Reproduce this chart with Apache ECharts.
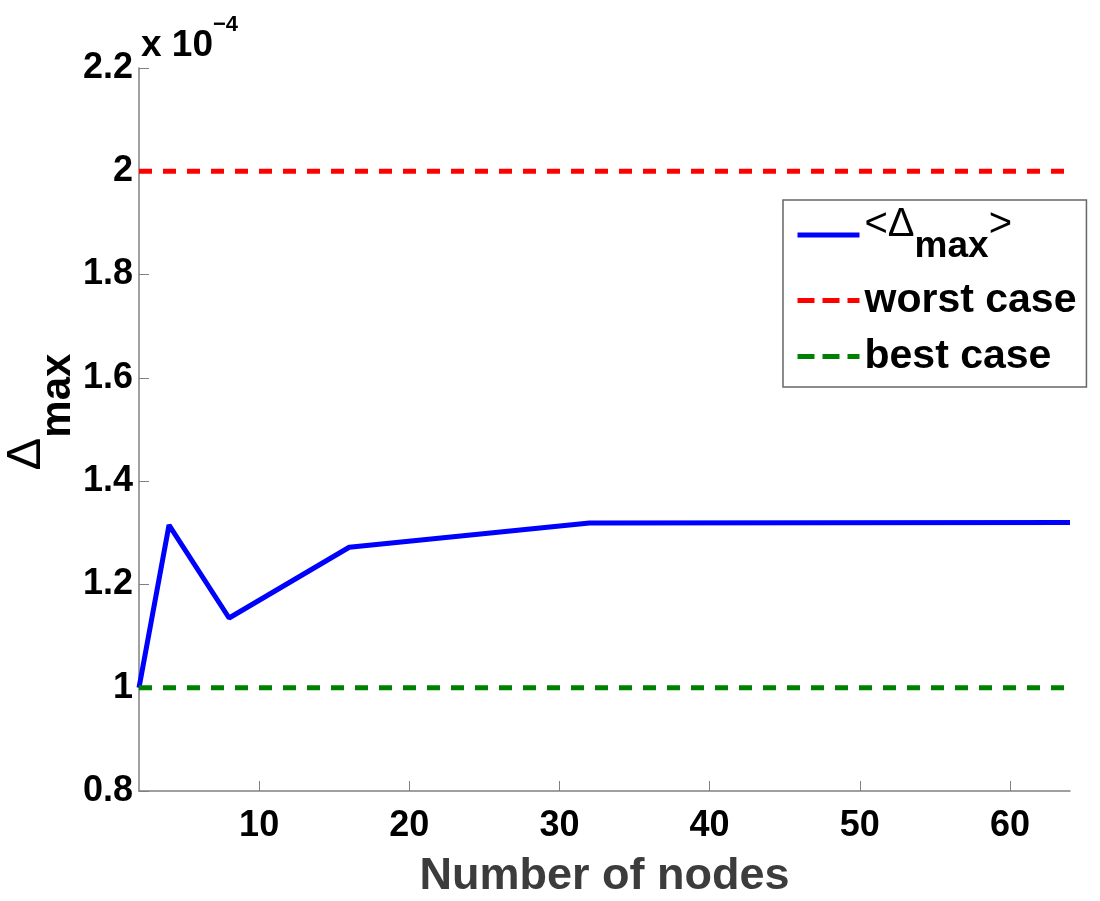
<!DOCTYPE html>
<html>
<head>
<meta charset="utf-8">
<script src="https://cdn.jsdelivr.net/npm/echarts@6/dist/echarts.min.js"></script>
<style>
  html, body { margin: 0; padding: 0; background: #fff; }
  #chart { width: 1100px; height: 901px; }
</style>
</head>
<body>
<div id="chart"></div>
<script>
// data (values in units of 1e-4)
const nodes = [2, 4, 8, 16, 32, 64];
const deltaMax = [1.0, 1.315, 1.135, 1.272, 1.319, 1.32];
const worstCase = [2, 2, 2, 2, 2, 2];
const bestCase = [1, 1, 1, 1, 1, 1];
const xTicks = [10, 20, 30, 40, 50, 60];
const seriesNames = ['<Δmax>', 'worst case', 'best case'];

const FONT = '"Liberation Sans", Arial, sans-serif';
const pairs = (ys) => nodes.map((x, i) => [x, ys[i]]);

const chart = echarts.init(document.getElementById('chart'));

const axisLine = { show: true, lineStyle: { color: '#808080', width: 1.5 } };
const dashed = [13, 11];

chart.setOption({
  animation: false,
  backgroundColor: '#fff',
  textStyle: { fontFamily: FONT },
  // the "x 10^-4" multiplier above the y axis
  title: {
    left: 141,
    top: 14,
    padding: 0,
    text: '{a|x 10}{b|−4}',
    textStyle: {
      rich: {
        a: { fontFamily: FONT, fontSize: 37, fontWeight: 'bold', color: '#000', verticalAlign: 'top', padding: [13, 0, 0, 0] },
        b: { fontFamily: FONT, fontSize: 22, color: '#000', verticalAlign: 'top' }
      }
    }
  },
  grid: { left: 139, right: 30, top: 68, bottom: 110, outerBoundsMode: 'none' },
  legend: {
    orient: 'vertical',
    left: 783,
    top: 200,
    padding: [5, 10, 10, 12],
    itemWidth: 62,
    itemHeight: 20,
    itemGap: 15,
    backgroundColor: '#fff',
    borderColor: '#666',
    borderWidth: 1.5,
    borderRadius: 0,
    itemStyle: { opacity: 0 },
    lineStyle: { width: 5 },
    data: [
      { name: seriesNames[0], itemStyle: { opacity: 0 } },
      { name: seriesNames[1], itemStyle: { opacity: 0 }, lineStyle: { width: 5, type: [17, 8] } },
      { name: seriesNames[2], itemStyle: { opacity: 0 }, lineStyle: { width: 5, type: [17, 8] } }
    ],
    formatter: (name) => name === seriesNames[0] ? '{n|<}{d|Δ}{s|max}{n|>}' : '{t|' + name + '}',
    textStyle: {
      rich: {
        t: { fontFamily: FONT, fontSize: 41, fontWeight: 'bold', color: '#000' },
        n: { fontFamily: FONT, fontSize: 40, color: '#000', verticalAlign: 'top' },
        d: { fontFamily: FONT, fontSize: 40, color: '#000', verticalAlign: 'top' },
        s: { fontFamily: FONT, fontSize: 37, fontWeight: 'bold', color: '#000', verticalAlign: 'top', padding: [23, 0, 0, 0] }
      }
    }
  },
  xAxis: {
    type: 'value',
    min: 2,
    max: 64,
    name: 'Number of nodes',
    nameLocation: 'middle',
    nameGap: 63,
    nameMoveOverlap: false,
    nameTextStyle: { fontFamily: FONT, fontSize: 45, fontWeight: 'bold', color: '#3c3c3c' },
    axisLine: axisLine,
    axisTick: { show: true, inside: true, length: 10, customValues: xTicks, lineStyle: { color: '#808080' } },
    axisLabel: { customValues: xTicks, margin: 17, fontFamily: FONT, fontSize: 36, fontWeight: 'bold', color: '#000' },
    splitLine: { show: false }
  },
  yAxis: {
    type: 'value',
    min: 0.8,
    max: 2.2,
    interval: 0.2,
    name: '{d|Δ}{s|max}',
    nameLocation: 'middle',
    nameRotate: 90,
    nameGap: 60,
    nameMoveOverlap: false,
    nameTextStyle: {
      padding: [0, 0, 0, 35],
      rich: {
        d: { fontFamily: FONT, fontSize: 49, color: '#000', verticalAlign: 'top' },
        s: { fontFamily: FONT, fontSize: 42, fontWeight: 'bold', color: '#000', verticalAlign: 'top', padding: [35, 0, 0, 0] }
      }
    },
    axisLine: axisLine,
    axisTick: { show: true, inside: true, length: 10, lineStyle: { color: '#808080' } },
    axisLabel: {
      margin: 6, fontFamily: FONT, fontSize: 36, fontWeight: 'bold', color: '#000',
      formatter: (v) => String(Math.round(v * 10) / 10)
    },
    splitLine: { show: false }
  },
  series: [
    {
      name: seriesNames[0], type: 'line', data: pairs(deltaMax), symbol: 'none',
      lineStyle: { color: '#0000ff', width: 5 }, itemStyle: { color: '#0000ff' }, z: 3
    },
    {
      name: seriesNames[1], type: 'line', data: pairs(worstCase), symbol: 'none',
      lineStyle: { color: '#ff0000', width: 5, type: dashed }, itemStyle: { color: '#ff0000' }
    },
    {
      name: seriesNames[2], type: 'line', data: pairs(bestCase), symbol: 'none',
      lineStyle: { color: '#008000', width: 5, type: dashed }, itemStyle: { color: '#008000' }
    }
  ]
});
</script>
</body>
</html>
